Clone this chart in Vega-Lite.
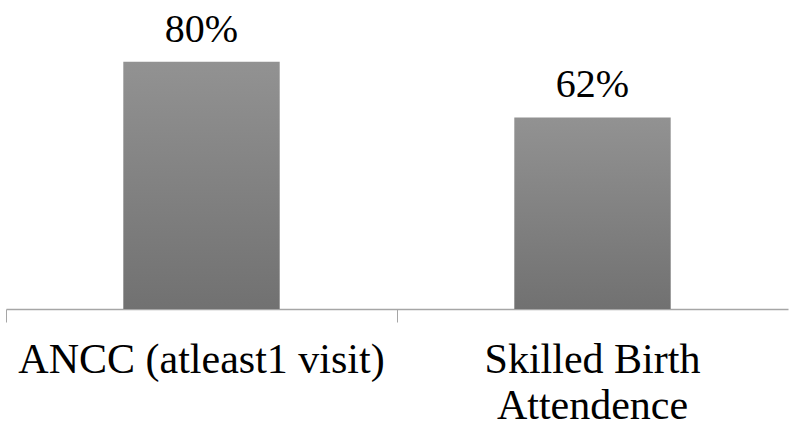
{
  "$schema": "https://vega.github.io/schema/vega-lite/v6.json",
  "autosize": {"type": "none"},
  "width": 782,
  "height": 309,
  "padding": {"left": 6, "top": 0, "right": 1, "bottom": 113},
  "background": "white",
  "config": {"view": {"stroke": null}, "font": "Liberation Serif, DejaVu Serif"},
  "data": {
    "values": [
      {"category": "ANCC (atleast1 visit)", "value": 0.80},
      {"category": "Skilled Birth Attendence", "value": 0.62}
    ]
  },
  "encoding": {
    "x": {
      "field": "category",
      "type": "nominal",
      "sort": null,
      "scale": {"paddingInner": 0, "paddingOuter": 0},
      "axis": {
        "title": null,
        "bandPosition": 0,
        "tickExtra": false,
        "labelAngle": 0,
        "labelLimit": 0,
        "labelFont": "Liberation Serif, DejaVu Serif",
        "labelFontSize": 42,
        "labelColor": "black",
        "labelBaseline": "alphabetic",
        "labelLineHeight": 46,
        "labelPadding": 50,
        "labelExpr": "datum.label == 'Skilled Birth Attendence' ? ['Skilled Birth', 'Attendence'] : datum.label",
        "tickSize": 13,
        "tickColor": "#a6a6a6",
        "domainColor": "#a6a6a6",
        "domainWidth": 1.5,
        "grid": false
      }
    },
    "y": {
      "field": "value",
      "type": "quantitative",
      "scale": {"domain": [0, 1]},
      "axis": null
    }
  },
  "layer": [
    {
      "mark": {
        "type": "bar",
        "width": {"band": 0.4},
        "color": {
          "gradient": "linear",
          "x1": 0, "y1": 0, "x2": 0, "y2": 1,
          "stops": [
            {"offset": 0, "color": "#929292"},
            {"offset": 1, "color": "#717171"}
          ]
        }
      }
    },
    {
      "mark": {
        "type": "text",
        "baseline": "alphabetic",
        "dy": -20,
        "font": "Liberation Serif, DejaVu Serif",
        "fontSize": 40,
        "color": "black"
      },
      "encoding": {
        "text": {"field": "value", "type": "quantitative", "format": ".0%"}
      }
    }
  ]
}
